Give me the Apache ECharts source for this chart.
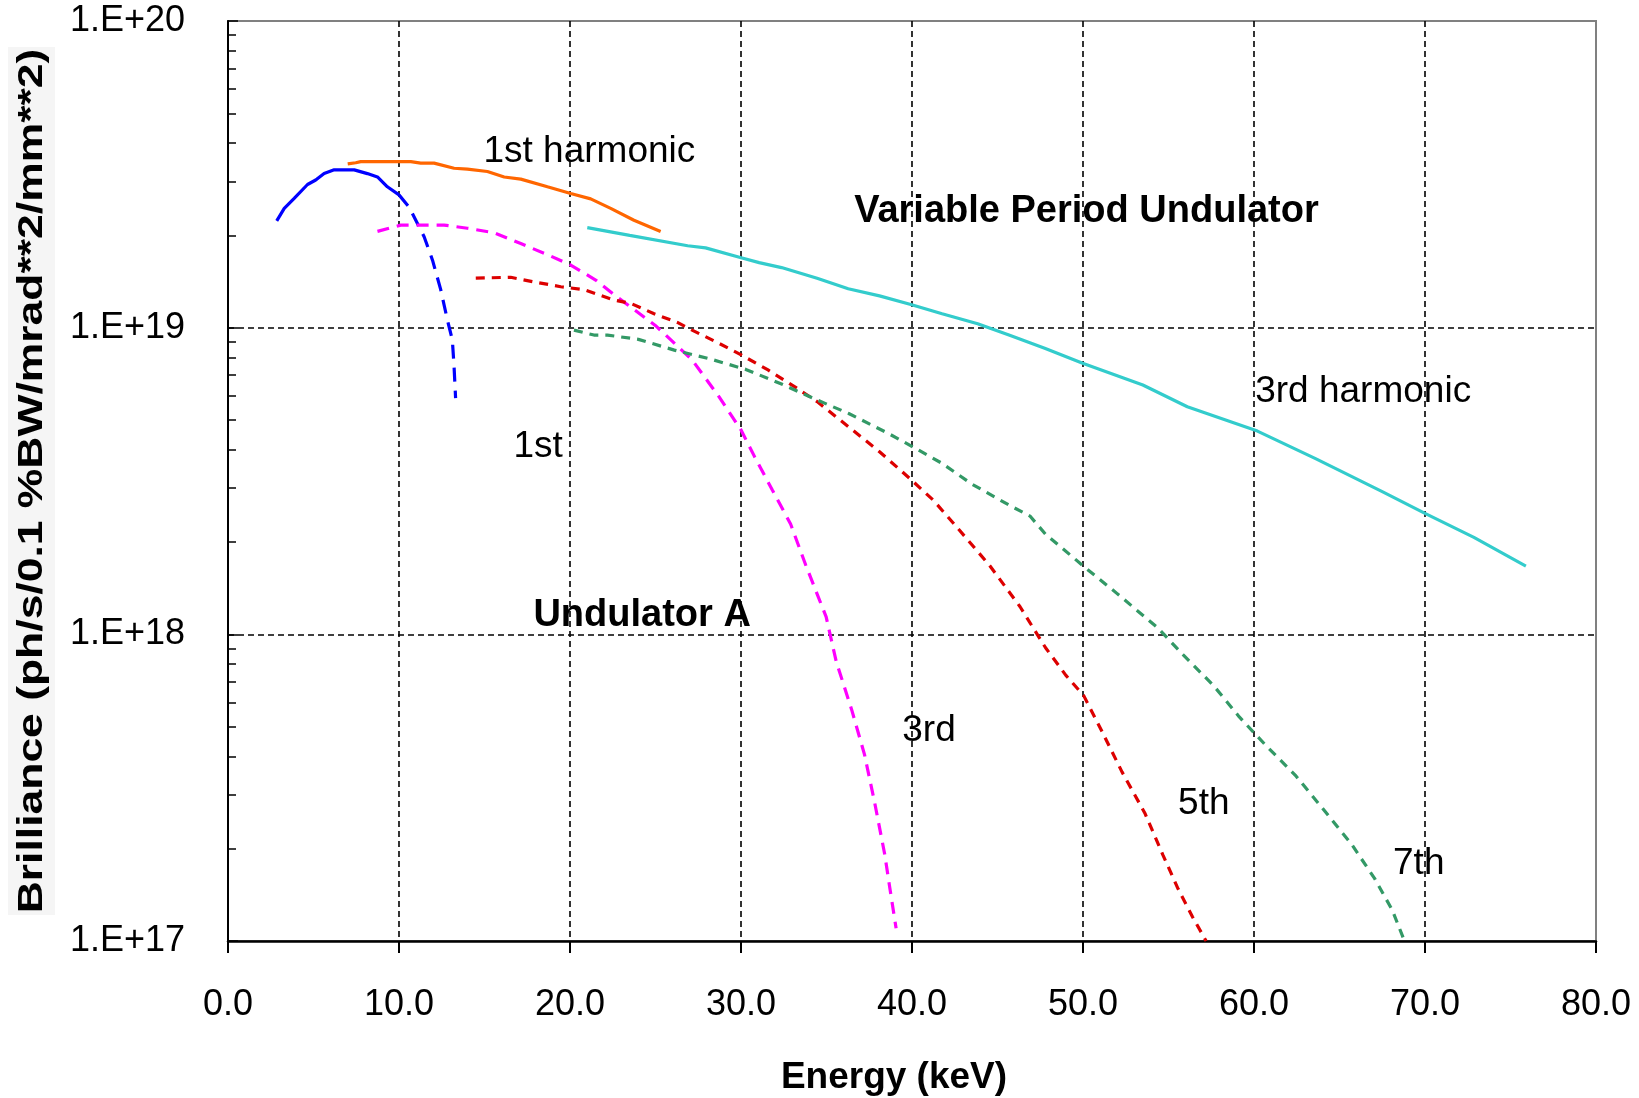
<!DOCTYPE html>
<html>
<head>
<meta charset="utf-8">
<title>Brilliance vs Energy</title>
<script src="https://cdn.jsdelivr.net/npm/echarts@6/dist/echarts.min.js"></script>
<style>
  html, body { margin: 0; padding: 0; background: #fff; }
  #main { width: 1639px; height: 1098px; }
</style>
</head>
<body>
<div id="main"></div>
<script>
// Undulator A, 1st harmonic (solid part, then dashed tail)
var undA1SolidE = [2.85, 3.29, 3.87, 4.65, 5.13, 5.62, 6.21, 7.38, 8.15, 8.74, 9.32, 10.0];
var undA1SolidB = [2.23e19, 2.45e19, 2.64e19, 2.93e19, 3.03e19, 3.18e19, 3.27e19, 3.27e19, 3.18e19, 3.10e19, 2.88e19, 2.71e19];
var undA1DashE = [10.0, 10.6, 11.47, 11.96, 12.44, 12.83, 13.12, 13.22, 13.31];
var undA1DashB = [2.71e19, 2.47e19, 1.98e19, 1.66e19, 1.33e19, 1.06e19, 9.12e18, 7.46e18, 5.89e18];

// Variable Period Undulator, 1st harmonic
var vpu1E = [7.0, 7.47, 7.76, 10.69, 11.27, 12.05, 13.22, 14.0, 15.17, 16.15, 17.12, 18.68, 20.04, 21.21, 22.38, 23.74, 25.3];
var vpu1B = [3.42e19, 3.45e19, 3.48e19, 3.48e19, 3.44e19, 3.44e19, 3.31e19, 3.29e19, 3.23e19, 3.10e19, 3.05e19, 2.88e19, 2.74e19, 2.63e19, 2.45e19, 2.24e19, 2.06e19];

// Variable Period Undulator, 3rd harmonic
var vpu3E = [21.01, 23.49, 26.88, 27.93, 30.01, 31.06, 32.37, 34.45, 36.27, 38.1, 39.93, 41.76, 43.84, 45.67, 47.76, 49.98, 53.5, 56.1, 60.2, 63.6, 67.5, 70.0, 72.86, 75.9];
var vpu3B = [2.12e19, 2.00e19, 1.85e19, 1.82e19, 1.69e19, 1.63e19, 1.57e19, 1.45e19, 1.34e19, 1.27e19, 1.19e19, 1.11e19, 1.03e19, 9.46e18, 8.57e18, 7.66e18, 6.50e18, 5.52e18, 4.60e18, 3.74e18, 2.92e18, 2.48e18, 2.07e18, 1.67e18];

// Undulator A, 3rd / 5th / 7th harmonics
var undA3E = [8.74, 10.1, 12.64, 14.0, 15.56, 17.12, 18.68, 20.04, 21.5, 22.58, 23.8, 25.05, 27.14, 28.71, 30.01, 30.8, 31.84, 32.9, 33.79, 34.98, 35.57, 36.47, 37.22, 37.82, 38.41, 38.71, 39.07];
var undA3B = [2.06e19, 2.16e19, 2.16e19, 2.11e19, 2.04e19, 1.88e19, 1.73e19, 1.60e19, 1.43e19, 1.28e19, 1.14e19, 1.01e19, 7.85e18, 5.96e18, 4.63e18, 3.79e18, 2.95e18, 2.29e18, 1.68e18, 1.14e18, 8.15e17, 5.68e17, 4.06e17, 2.82e17, 1.91e17, 1.48e17, 1.10e17];

var undA5E = [14.49, 16.53, 17.9, 19.46, 20.82, 22.58, 23.55, 24.92, 26.28, 27.14, 28.71, 30.01, 31.58, 33.15, 34.45, 36.54, 38.1, 39.93, 41.24, 42.55, 44.53, 46.32, 47.81, 49.0, 50.05, 51.09, 52.28, 53.62, 54.67, 55.56, 56.4, 57.2];
var undA5B = [1.45e19, 1.46e19, 1.41e19, 1.36e19, 1.33e19, 1.23e19, 1.20e19, 1.11e19, 1.04e19, 9.82e18, 8.89e18, 8.15e18, 7.28e18, 6.41e18, 5.74e18, 4.63e18, 3.94e18, 3.20e18, 2.74e18, 2.26e18, 1.68e18, 1.23e18, 9.04e17, 7.35e17, 6.30e17, 4.85e17, 3.56e17, 2.61e17, 1.91e17, 1.48e17, 1.20e17, 1.0e17];

var undA7E = [20.23, 21.4, 22.19, 24.0, 26.1, 28.18, 30.28, 32.37, 34.45, 36.3, 38.62, 40.1, 41.76, 43.5, 45.67, 46.9, 47.81, 50.19, 51.98, 54.37, 55.86, 57.65, 59.14, 60.63, 62.42, 63.91, 65.7, 67.05, 68.09, 68.8];
var undA7B = [9.82e18, 9.46e18, 9.46e18, 9.16e18, 8.45e18, 7.91e18, 7.31e18, 6.55e18, 5.81e18, 5.25e18, 4.52e18, 4.07e18, 3.61e18, 3.09e18, 2.64e18, 2.43e18, 2.12e18, 1.64e18, 1.36e18, 1.05e18, 8.57e17, 6.79e17, 5.38e17, 4.38e17, 3.47e17, 2.75e17, 2.07e17, 1.60e17, 1.26e17, 1.0e17];

// minor ticks of the log axis (2..9 x 10^n)
var yMinorTicks = [2e17, 3e17, 4e17, 5e17, 6e17, 7e17, 8e17, 9e17,
                   2e18, 3e18, 4e18, 5e18, 6e18, 7e18, 8e18, 9e18,
                   2e19, 3e19, 4e19, 5e19, 6e19, 7e19, 8e19, 9e19];

// text notes inside the plot, anchored at (energy, brilliance) of their left-middle point
var noteText = ['1st harmonic', 'Variable Period Undulator', '3rd harmonic', '1st', 'Undulator A', '3rd', '5th', '7th'];
var noteE = [14.94, 36.62, 60.07, 16.69, 17.86, 39.43, 55.56, 68.13];
var noteB = [3.74e19, 2.40e19, 6.2e18, 4.08e18, 1.15e18, 4.85e17, 2.81e17, 1.78e17];
var noteBold = [false, true, false, false, true, false, false, false];

var FONT = '"Liberation Sans", Arial, Helvetica, sans-serif';

function pairs(xs, ys) {
	var out = [];
	for (var i = 0; i < xs.length; i++) {
		out.push([xs[i], ys[i]]);
	}
	return out;
}

function lineSeries(name, xs, ys, color, dash) {
	return {
		name: name,
		type: 'line',
		data: pairs(xs, ys),
		showSymbol: false,
		symbol: 'none',
		lineStyle: { color: color, width: 3.2, type: dash || 'solid', cap: 'butt' },
		z: 3
	};
}

var myChart = echarts.init(document.getElementById('main'));

var gridLine = { color: '#000', width: 1.6, type: [6, 4] };

var option = {
	animation: false,
	backgroundColor: '#fff',
	grid: {
		left: 228, right: 43, top: 21, bottom: 157,
		containLabel: false,
		outerBoundsMode: 'none',
		show: true,
		borderColor: '#808080',
		borderWidth: 2,
		backgroundColor: 'transparent'
	},
	xAxis: {
		type: 'value',
		min: 0, max: 80, interval: 10,
		name: 'Energy (keV)',
		nameLocation: 'middle',
		nameGap: 118,
		// right padding nudges the title a little left of the plot centre, as in the original
		nameTextStyle: { fontFamily: FONT, fontSize: 37, fontWeight: 'bold', color: '#000', padding: [0, 36, 0, 0] },
		axisLine: { show: true, onZero: false, lineStyle: { color: '#000', width: 2.5 } },
		axisTick: { show: true, inside: false, length: 12, lineStyle: { color: '#000', width: 2 } },
		axisLabel: {
			margin: 46, fontFamily: FONT, fontSize: 36, color: '#000',
			formatter: function (v) { return v.toFixed(1); }
		},
		splitLine: { show: true, showMinLine: false, showMaxLine: false, lineStyle: gridLine }
	},
	yAxis: [{
		type: 'log',
		logBase: 10,
		min: 1e17, max: 1e20, interval: 1,
		position: 'left',
		axisLine: { show: true, onZero: false, lineStyle: { color: '#000', width: 2 } },
		axisTick: { show: true, inside: true, length: 10, lineStyle: { color: '#000', width: 1.5 } },
		axisLabel: {
			margin: 43, fontFamily: FONT, fontSize: 36, color: '#000',
			formatter: function (v) { return '1.E+' + Math.round(Math.log10(v)); }
		},
		splitLine: { show: true, showMinLine: false, showMaxLine: false, lineStyle: gridLine },
		minorTick: { show: false }
	}, {
		// only carries the 2..9 minor ticks
		type: 'log',
		logBase: 10,
		min: 1e17, max: 1e20,
		position: 'left',
		axisLine: { show: false },
		axisLabel: { show: false },
		splitLine: { show: false },
		axisTick: { show: true, inside: true, length: 8, customValues: yMinorTicks, lineStyle: { color: '#000', width: 1.5 } }
	}],
	series: [
		lineSeries('Undulator A 1st', undA1SolidE, undA1SolidB, '#0000ff'),
		lineSeries('Undulator A 1st (tail)', undA1DashE, undA1DashB, '#0000ff', [14, 9]),
		lineSeries('VPU 1st harmonic', vpu1E, vpu1B, '#ff6600'),
		lineSeries('VPU 3rd harmonic', vpu3E, vpu3B, '#33cccc'),
		lineSeries('Undulator A 3rd', undA3E, undA3B, '#ff00ff', [12, 8]),
		lineSeries('Undulator A 5th', undA5E, undA5B, '#dd0000', [9, 7]),
		lineSeries('Undulator A 7th', undA7E, undA7B, '#339966', [9, 7])
	]
};

myChart.setOption(option);

// y axis title (stretched along its length like the original) and its grey box
var graphics = [{
	type: 'rect',
	shape: { x: 8, y: 47, width: 47, height: 868 },
	style: { fill: '#f5f5f5' },
	z: 1
}, {
	type: 'text',
	x: 32, y: 481,
	rotation: Math.PI / 2,
	scaleX: 1.27,
	style: {
		text: 'Brilliance (ph/s/0.1 %BW/mrad**2/mm**2)',
		font: 'bold 35px ' + FONT,
		fill: '#000',
		align: 'center',
		verticalAlign: 'middle'
	},
	z: 2
}];

// notes placed from data coordinates
for (var i = 0; i < noteText.length; i++) {
	var p = myChart.convertToPixel({ xAxisIndex: 0, yAxisIndex: 0 }, [noteE[i], noteB[i]]);
	graphics.push({
		type: 'text',
		x: p[0], y: p[1],
		style: {
			text: noteText[i],
			font: (noteBold[i] ? 'bold 38px ' : '37px ') + FONT,
			fill: '#000',
			align: 'left',
			verticalAlign: 'middle'
		},
		z: 10
	});
}

myChart.setOption({ graphic: graphics });
</script>
</body>
</html>
